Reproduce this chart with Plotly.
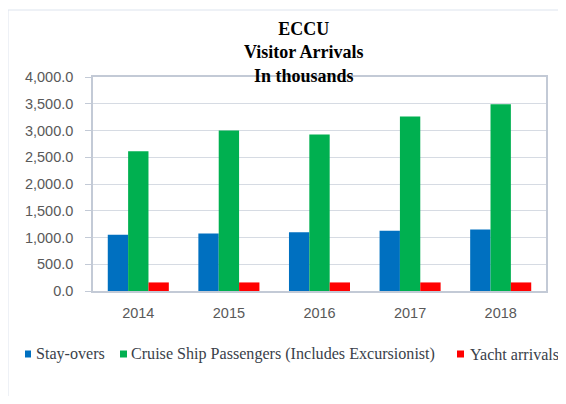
import plotly.graph_objects as go

years = ["2014", "2015", "2016", "2017", "2018"]
stay_overs = [1050, 1075, 1100, 1125, 1150]
cruise = [2610, 3000, 2925, 3260, 3490]
yacht = [160, 160, 160, 160, 160]

names = ["Stay-overs", "Cruise Ship Passengers (Includes Excursionist)", "Yacht arrivals"]
colors = ["#0070C0", "#00B050", "#FF0000"]

# page offset of the plot div (browser body margin)
OX, OY = 8, 8
W, H = 558, 388
# plot area in page pixels: x 93..546, y 77..291
ML, MR, MT, MB = 93 - OX, W - (546 - OX), 77 - OY, H - (291 - OY)
PW = W - ML - MR
PH = H - MT - MB


def px(x):
    return (x - OX - ML) / PW


def py(y):
    return (H - MB - (y - OY)) / PH


fig = go.Figure()
for vals, name, col in zip([stay_overs, cruise, yacht], names, colors):
    fig.add_trace(go.Bar(x=years, y=vals, name=name, marker=dict(color=col, line=dict(width=0)),
                         showlegend=False))

axis_col = "#C3CAD6"
grid_col = "#D6DBE3"
tick_font = dict(family="Liberation Sans", size=14.5, color="#595959")

fig.update_layout(
    width=W, height=H,
    margin=dict(l=ML, r=MR, t=MT, b=MB),
    paper_bgcolor="white", plot_bgcolor="white",
    barmode="group", bargap=0.326, bargroupgap=0,
    xaxis=dict(type="category", showline=True, linecolor=axis_col, linewidth=1.5, mirror=True,
               ticks="", tickfont=tick_font, ticklabelstandoff=8, showgrid=False),
    yaxis=dict(range=[0, 4000], dtick=500, tickformat=",.1f", showline=True, linecolor=axis_col,
               linewidth=1.5, mirror=True, ticks="outside", ticklen=6, tickcolor=axis_col,
               tickfont=tick_font, ticklabelstandoff=9, showgrid=True, gridcolor=grid_col,
               gridwidth=1, zeroline=False),
)

# outer chart frame
fig.add_shape(type="rect", xref="paper", yref="paper", x0=px(8), x1=px(700), y0=py(600), y1=py(10),
              line=dict(color="#DDE4EE", width=1), fillcolor="rgba(0,0,0,0)", layer="below")

# chart title
fig.add_annotation(text="ECCU<br>Visitor Arrivals<br>In thousands", xref="paper", yref="paper",
                   x=px(304), y=py(52.5), xanchor="center", yanchor="middle", showarrow=False,
                   font=dict(family="Liberation Serif", size=18, color="#000000", weight="bold"),
                   borderpad=0)

# legend (custom, to match the reference spacing)
leg_y = 354
sq = [(25, 31), (120, 127), (457, 464)]
txt_x = [35.5, 129.5, 468.5]
leg_font = dict(family="Liberation Serif", size=16.1, color="#3A3F4A")
for (x0, x1), tx, name, col in zip(sq, txt_x, names, colors):
    fig.add_shape(type="rect", xref="paper", yref="paper", x0=px(x0), x1=px(x1),
                  y0=py(leg_y + 3.5), y1=py(leg_y - 3.5), line=dict(width=0), fillcolor=col)
    fig.add_annotation(text=name, xref="paper", yref="paper", x=px(tx), y=py(leg_y),
                       xanchor="left", yanchor="middle", showarrow=False, font=leg_font,
                       borderpad=0)

fig.write_html("out.html")
